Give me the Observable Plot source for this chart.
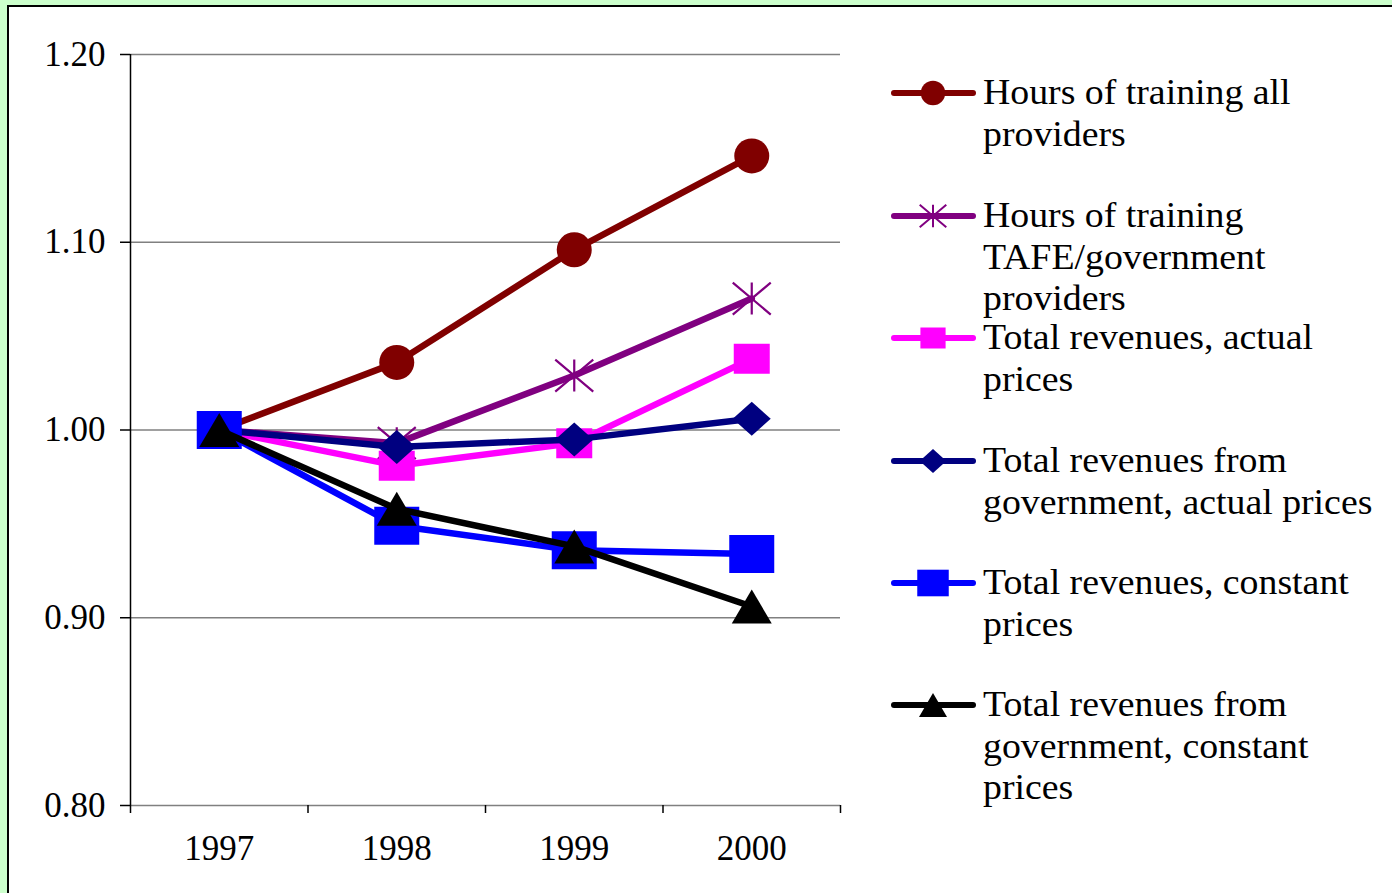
<!DOCTYPE html>
<html><head><meta charset="utf-8">
<script src="https://cdn.jsdelivr.net/npm/d3@7"></script>
<script src="https://cdn.jsdelivr.net/npm/@observablehq/plot@0.6"></script>
<style>
html,body{margin:0;padding:0;background:#CCFFCC;width:1392px;height:893px;overflow:hidden;position:relative;}
#panel{position:absolute;left:7px;top:5px;width:1420px;height:920px;background:#fff;border:2px solid #000;box-sizing:border-box;}
#chart{position:absolute;left:0;top:0;}
.entry{position:absolute;left:983px;font-family:"Liberation Serif","Times New Roman",serif;font-size:35px;line-height:41.5px;color:#000;white-space:nowrap;transform:scaleX(1.08);transform-origin:0 0;}
.sw{position:absolute;left:890px;}
</style></head>
<body>
<div id="panel"></div>
<div id="chart"></div>
<div id="legend"></div>
<script>
const years = [1997, 1998, 1999, 2000];
const seriesNames = [
  "Hours of training all providers",
  "Hours of training TAFE/government providers",
  "Total revenues, actual prices",
  "Total revenues from government, actual prices",
  "Total revenues, constant prices",
  "Total revenues from government, constant prices"
];
const legendLines = [
  ["Hours of training all", "providers"],
  ["Hours of training", "TAFE/government", "providers"],
  ["Total revenues, actual", "prices"],
  ["Total revenues from", "government, actual prices"],
  ["Total revenues, constant", "prices"],
  ["Total revenues from", "government, constant", "prices"]
];
const hoursAll      = [1.000, 1.036, 1.096, 1.146];
const hoursTafe     = [1.000, 0.993, 1.029, 1.070];
const revActual     = [1.000, 0.981, 0.993, 1.038];
const revGovActual  = [1.000, 0.991, 0.995, 1.006];
const revConst      = [1.000, 0.949, 0.936, 0.934];
const revGovConst   = [1.000, 0.958, 0.938, 0.906];
const yTicks = [0.8, 0.9, 1.0, 1.1, 1.2];

// custom marker shapes (scaled by r: r=10 -> full size)
function sc(size){ return Math.sqrt(size/Math.PI)/10; }
const circleSym = {draw(c, size){ const s=sc(size), r=17.5*s; c.moveTo(r,0); c.arc(0,0,r,0,2*Math.PI); c.closePath(); }};
const starSym = {draw(c, size){ const s=sc(size), w=19*s, h=16*s;
  c.moveTo(0,-h); c.lineTo(0,h); c.moveTo(-w,-h); c.lineTo(w,h); c.moveTo(-w,h); c.lineTo(w,-h); }};
function rectSym(hw, hh){ return {draw(c, size){ const s=sc(size), w=hw*s, h=hh*s;
  c.moveTo(-w,-h); c.lineTo(w,-h); c.lineTo(w,h); c.lineTo(-w,h); c.closePath(); }}; }
const diamondSym = {draw(c, size){ const s=sc(size), w=19*s, h=17*s;
  c.moveTo(0,-h); c.lineTo(w,0); c.lineTo(0,h); c.lineTo(-w,0); c.closePath(); }};
const triSym = {draw(c, size){ const s=sc(size), w=20*s, h=17*s;
  c.moveTo(0,-h); c.lineTo(w,h); c.lineTo(-w,h); c.closePath(); }};

const series = [
  {name: seriesNames[0], values: hoursAll,     color: "#800000", symbol: circleSym, stroked: false},
  {name: seriesNames[1], values: hoursTafe,    color: "#800080", symbol: starSym,   stroked: true},
  {name: seriesNames[2], values: revActual,    color: "#FF00FF", symbol: rectSym(18,15), stroked: false},
  {name: seriesNames[3], values: revGovActual, color: "#000080", symbol: diamondSym, stroked: false},
  {name: seriesNames[4], values: revConst,     color: "#0000FF", symbol: rectSym(22.5,19), stroked: false},
  {name: seriesNames[5], values: revGovConst,  color: "#000000", symbol: triSym,    stroked: false}
];

const boundaries = [...years.map(y => y - 0.5), years[years.length-1] + 0.5];

const marks = [
  Plot.gridY(yTicks, {stroke: "#808080", strokeOpacity: 1, strokeWidth: 1.5}),
  Plot.ruleX([boundaries[0]], {y1: yTicks[0], y2: yTicks[yTicks.length-1], stroke: "#000", strokeWidth: 1.5}),
  Plot.axisY(yTicks, {tickFormat: d3.format(".2f"), tickSize: 10, tickPadding: 15, stroke: "#000", strokeWidth: 1.5, fill: "#000", label: null}),
  Plot.axisX(boundaries, {tickSize: 8, tickFormat: () => "", stroke: "#000", strokeWidth: 1.5, label: null}),
  Plot.axisX(years, {tickSize: 0, tickPadding: 30, tickFormat: d => String(d), fill: "#000", label: null})
];
for (const s of series) {
  const rows = years.map((y, i) => ({year: y, value: s.values[i], name: s.name}));
  marks.push(Plot.line(rows, {x: "year", y: "value", stroke: s.color, strokeWidth: 6.5, strokeLinejoin: "round", strokeLinecap: "round"}));
  marks.push(Plot.dot(rows, s.stroked
    ? {x: "year", y: "value", symbol: s.symbol, r: 10, fill: "none", stroke: s.color, strokeWidth: 2.2}
    : {x: "year", y: "value", symbol: s.symbol, r: 10, fill: s.color, stroke: "none"}));
}

const chart = Plot.plot({
  width: 860, height: 893,
  marginLeft: 130, marginRight: 20, marginTop: 54, marginBottom: 88,
  x: {type: "linear", domain: [boundaries[0], boundaries[boundaries.length-1]], label: null},
  y: {domain: [yTicks[0], yTicks[yTicks.length-1]], label: null},
  style: {background: "none", fontFamily: "'Liberation Serif','Times New Roman',serif", fontSize: "35px", color: "#000"},
  marks
});
document.getElementById("chart").appendChild(chart);

// legend
const legendTops = [93, 216, 338, 461, 583, 705];
const leg = document.getElementById("legend");
series.forEach((s, i) => {
  const yc = legendTops[i];
  const svg = d3.create("svg").attr("class", "sw").attr("width", 90).attr("height", 44)
    .style("top", (yc - 22) + "px");
  svg.append("line").attr("x1", 4).attr("x2", 83).attr("y1", 22).attr("y2", 22)
    .attr("stroke", s.color).attr("stroke-width", 6).attr("stroke-linecap", "round");
  const sym = d3.symbol(s.symbol, 7 * 7 * Math.PI);
  svg.append("path").attr("transform", "translate(43,22)").attr("d", sym())
    .attr("fill", s.stroked ? "none" : s.color).attr("stroke", s.stroked ? s.color : "none").attr("stroke-width", 2);
  leg.appendChild(svg.node());
  const div = document.createElement("div");
  div.className = "entry";
  div.style.top = (yc - 21) + "px";
  div.innerHTML = legendLines[i].join("<br>");
  leg.appendChild(div);
});
</script>
</body></html>
